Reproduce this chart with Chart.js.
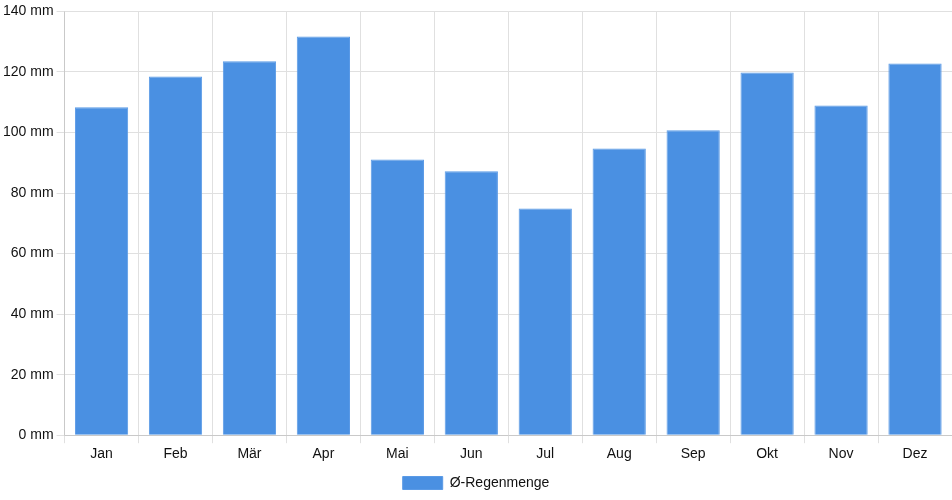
<!DOCTYPE html>
<html>
<head>
<meta charset="utf-8">
<script src="https://cdn.jsdelivr.net/npm/chart.js@4"></script>
<style>
  html, body { margin: 0; padding: 0; background: #fff; }
  #wrap { width: 952px; height: 500px; }
</style>
</head>
<body>
<div id="wrap"><canvas id="regen"></canvas></div>
<script>
var monate = ['Jan', 'Feb', 'Mär', 'Apr', 'Mai', 'Jun', 'Jul', 'Aug', 'Sep', 'Okt', 'Nov', 'Dez'];
var regenmenge = [108.3, 118.5, 123.5, 131.7, 91.1, 87.2, 74.9, 94.7, 100.7, 119.8, 108.9, 122.8];

Chart.defaults.font.family = '"Liberation Sans", Arial, sans-serif';
Chart.defaults.font.size = 14;
Chart.defaults.color = '#111';

var ctx = document.getElementById('regen');
var chartRegen = new Chart(ctx, {
	type: 'bar',
	data: {
		labels: monate,
		datasets: [
		{
			label: 'Ø-Regenmenge',
			backgroundColor: '#4a90e2',
			borderColor: '#5a9ae6',
			borderWidth: 1,
			data: regenmenge
		}
		]
	},
	options: {
		responsive: true,
		maintainAspectRatio: false,
		animation: false,
		layout: { padding: { top: 4, right: 0, bottom: 0 } },
		plugins: {
			legend: {
				position: 'bottom',
				labels: { boxWidth: 40, boxHeight: 13, padding: 10, font: { size: 14 } }
			},
			tooltip: { enabled: false }
		},
		scales: {
			x: {
				grid: { color: '#e0e0e0', offset: true },
				ticks: { padding: 3 }
			},
			y: {
				min: 0,
				max: 140,
				grid: { color: '#e0e0e0' },
				ticks: {
					stepSize: 20,
					callback: function (v) { return v + ' mm'; }
				}
			}
		}
	}
});
</script>
</body>
</html>
